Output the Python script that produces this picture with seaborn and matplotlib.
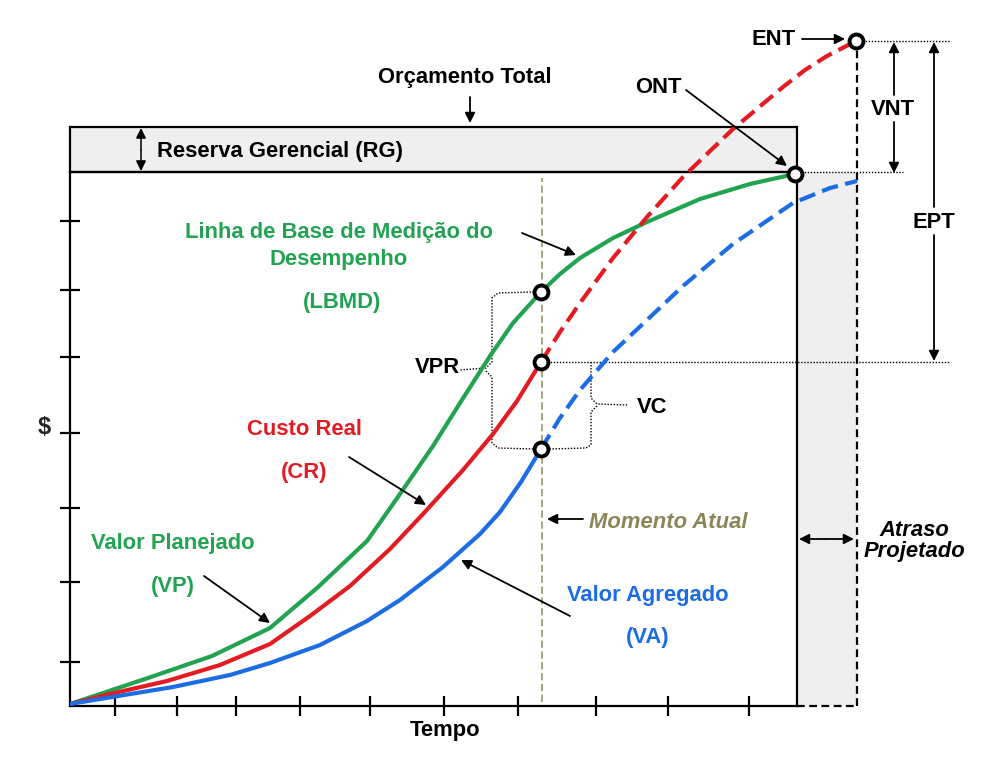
import matplotlib
matplotlib.use("Agg")
import matplotlib.pyplot as plt
import seaborn as sns
import pandas as pd
from matplotlib.patches import Rectangle

# ---------------- data (time units / cost units) ----------------
vp_t = [0, 78, 142, 200, 247, 297, 330, 363, 390, 420, 443, 471, 490, 510, 543, 577, 630, 680, 725]
vp_v = [2, 28, 50, 78, 118, 165, 212, 260, 303, 350, 383, 414, 432, 448, 468, 484, 507, 522, 532]

cr_t = [0, 40, 97, 150, 200, 240, 280, 320, 353, 393, 423, 447, 471]
cr_v = [2, 12, 25, 41, 62, 90, 120, 157, 192, 236, 272, 305, 344]
cr_fc_t = [471, 490, 510, 543, 577, 613, 663, 713, 735, 757, 786]
cr_fc_v = [344, 374, 403, 448, 489, 529, 577, 619, 636, 650, 665]

va_t = [0, 30, 103, 160, 200, 250, 297, 330, 373, 410, 430, 451, 471]
va_v = [2, 7, 19, 31, 43, 61, 85, 106, 139, 172, 194, 224, 257]
va_fc_t = [471, 490, 510, 543, 577, 613, 663, 723, 760, 787]
va_fc_v = [257, 288, 316, 354, 386, 420, 462, 503, 518, 525]

x_ticks = [45, 107, 166, 230, 300, 374, 448, 526, 598, 679]
y_ticks = [44, 124, 198, 273, 349, 416, 485]

t_now = 471.5          # Momento Atual
t_end_plan = 727       # planned end
t_end_fc = 787         # forecast end
bac = 534              # ONT level / top of baseline
total_budget = 579     # Orçamento Total
ent = 665              # ENT level
points_t = [471, 471, 471, 725, 786]
points_v = [414, 344, 257, 532, 665]

GREEN = "#22a352"
RED = "#e31b23"
BLUE = "#1c6de3"
OLIVE = "#8b8658"

# ---------------- figure ----------------
sns.set_theme(style="white")
plt.rcParams["font.family"] = ["Liberation Sans", "DejaVu Sans"]
plt.rcParams["font.weight"] = "bold"

W, H = 996, 773
fig = plt.figure(figsize=(W / 100, H / 100), dpi=100)
ax = fig.add_axes([70 / W, (H - 706) / H, 727 / W, 534 / H])
ax.set_xlim(0, 727)
ax.set_ylim(0, 534)
ax.set_facecolor("none")

for s in ax.spines.values():
    s.set_linewidth(1.6)
    s.set_color("black")
ax.set_xticks(x_ticks)
ax.set_yticks(y_ticks)
ax.tick_params(axis="x", bottom=True, top=False, direction="inout", length=15, width=1.6,
               labelbottom=False, colors="black")
ax.tick_params(axis="y", left=True, right=False, direction="inout", length=15, width=1.6,
               labelleft=False, colors="black")
ax.grid(False)

# reserve box and shaded delay
ax.add_patch(Rectangle((0, bac), t_end_plan, total_budget - bac, facecolor="#efefef",
                       edgecolor="black", lw=1.6, clip_on=False, zorder=1))
ax.add_patch(Rectangle((t_end_plan, 0), t_end_fc - t_end_plan, bac, facecolor="#efefef",
                       edgecolor="none", clip_on=False, zorder=0))
ax.plot([t_end_fc, t_end_fc], [0, ent], color="black", lw=1.6, ls=(0, (3.5, 2)), clip_on=False, zorder=2)
ax.plot([t_end_plan, t_end_fc], [0, 0], color="black", lw=1.6, ls=(0, (3.5, 2)), clip_on=False, zorder=2)

# Momento Atual line
ax.plot([t_now, t_now], [4, 528], color="#a39d73", lw=1.3, ls=(0, (4, 2)), zorder=2)

# curves
dash = (0, (4, 1.8))
sns.lineplot(x=vp_t, y=vp_v, ax=ax, color=GREEN, linewidth=3, sort=False, estimator=None, zorder=4)
sns.lineplot(x=cr_t, y=cr_v, ax=ax, color=RED, linewidth=3, sort=False, estimator=None, zorder=4)
sns.lineplot(x=cr_fc_t, y=cr_fc_v, ax=ax, color=RED, linewidth=3, linestyle=dash, sort=False,
             estimator=None, zorder=4, clip_on=False)
sns.lineplot(x=va_t, y=va_v, ax=ax, color=BLUE, linewidth=3, sort=False, estimator=None, zorder=4)
sns.lineplot(x=va_fc_t, y=va_fc_v, ax=ax, color=BLUE, linewidth=3, linestyle=dash, sort=False,
             estimator=None, zorder=4, clip_on=False)

# dotted guides
dot = dict(color="black", lw=1.0, ls=(0, (1, 1.2)), clip_on=False, zorder=3)
ax.plot([786, 880], [ent, ent], **dot)
ax.plot([725, 833], [bac, bac], **dot)
ax.plot([471, 880], [344, 344], **dot)
# VPR brace
ax.plot([464, 428, 422, 422, 416, 390], [414, 413, 408, 344, 338, 336], **dot)
ax.plot([416, 422, 422, 428, 464], [335, 329, 263, 258, 257], **dot)
# VC brace
ax.plot([521, 521, 527, 558], [344, 308, 302, 301], **dot)
ax.plot([527, 521, 521, 516, 478], [300, 294, 261, 258, 257], **dot)

# markers
pts = pd.DataFrame({"t": points_t, "v": points_v})
sns.scatterplot(data=pts, x="t", y="v", ax=ax, s=100, color="white", edgecolor="black",
                linewidth=2.8, zorder=6, clip_on=False, legend=False)

# ---------------- annotations ----------------
FS = 15.8
def txt(x, y, s, color="black", ha="center", style="normal", size=FS):
    ax.text(x, y, s, color=color, ha=ha, va="baseline", fontsize=size, fontweight="bold",
            fontstyle=style, clip_on=False, zorder=7)

def arrow(x0, y0, x1, y1, style="-|>", lw=1.3):
    ax.annotate("", xy=(x1, y1), xytext=(x0, y0),
                arrowprops=dict(arrowstyle=style, color="black", lw=lw, mutation_scale=15,
                                shrinkA=0, shrinkB=0), annotation_clip=False, zorder=7)

txt(395, 623, "Orçamento Total")
arrow(400, 609, 400, 583)
txt(87, 549, "Reserva Gerencial (RG)", ha="left")
arrow(71, 556, 71, 578, lw=1.1)
arrow(71, 556, 71, 535, lw=1.1)

txt(704, 661, "ENT")
arrow(732, 667, 775, 667)
txt(588, 613, "ONT")
arrow(616, 616, 717, 540)

txt(823, 591, "VNT")
arrow(824, 611, 824, 664)
arrow(824, 584, 824, 533)
txt(864, 478, "EPT")
arrow(864, 499, 864, 664)
arrow(864, 471, 864, 345)

txt(269, 468, "Linha de Base de Medição do", color=GREEN)
txt(269, 441, "Desempenho", color=GREEN)
txt(272, 398, "(LBMD)", color=GREEN)
arrow(452, 473, 506, 451)

txt(234, 271, "Custo Real", color=RED)
txt(234, 228, "(CR)", color=RED)
arrow(279, 249, 356, 201)

txt(103, 157, "Valor Planejado", color=GREEN)
txt(103, 114, "(VP)", color=GREEN)
arrow(134, 130, 200, 83)

txt(578, 105, "Valor Agregado", color=BLUE)
txt(578, 63, "(VA)", color=BLUE)
arrow(500, 90, 391, 146)

txt(519, 178, "Momento Atual", color=OLIVE, ha="left", style="italic")
arrow(513, 187, 477, 187)

txt(844, 170, "Atraso", style="italic")
txt(844, 149, "Projetado", style="italic")
arrow(756, 167, 784, 167)
arrow(756, 167, 729, 167)

txt(367, 333, "VPR")
txt(582, 293, "VC")
ax.text(-26, 279, "$", ha="center", va="center", fontsize=17, fontweight="bold", clip_on=False)
txt(375, -30, "Tempo")

fig.savefig("out.png", dpi=100)
